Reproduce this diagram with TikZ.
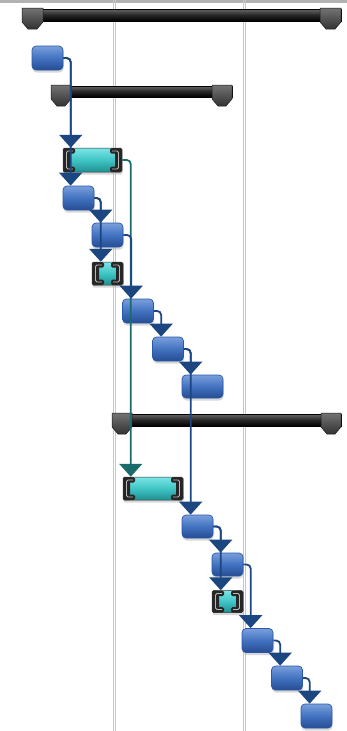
\documentclass[tikz,border=0pt]{standalone}
\usepackage{tikz}
\usetikzlibrary{arrows.meta,shadows}

\definecolor{taskhi}{HTML}{7A9FDC}
\definecolor{taskmid}{HTML}{4272C0}
\definecolor{tasklo}{HTML}{264C92}
\definecolor{taskline}{HTML}{2A58A8}
\definecolor{splithi}{HTML}{7BE6E6}
\definecolor{splitmid}{HTML}{3FC4C4}
\definecolor{splitlo}{HTML}{1F8F92}
\definecolor{linkblue}{HTML}{1C4680}
\definecolor{linkteal}{HTML}{1A6B6C}

\begin{document}
\begin{tikzpicture}[x=1pt,y=-1pt,
    task/.style={rectangle, rounded corners=4pt, draw=taskline, line width=0.7pt,
      top color=taskhi, bottom color=tasklo, middle color=taskmid,
      minimum width=31pt, minimum height=24pt, inner sep=0pt,
      drop shadow={shadow xshift=0.5pt, shadow yshift=-2.5pt, fill=black!30, opacity=0.5}},
    split/.style={rectangle, rounded corners=1.5pt, draw=black!80, line width=0.5pt,
      top color=splithi, bottom color=splitlo, middle color=splitmid,
      minimum height=24pt, inner sep=0pt,
      drop shadow={shadow xshift=0.5pt, shadow yshift=-2.5pt, fill=black!30, opacity=0.5},
      path picture={
        \fill[black!85] (path picture bounding box.north west) rectangle ([xshift=7pt]path picture bounding box.south west);
        \fill[black!85] (path picture bounding box.north west) rectangle ([xshift=12pt,yshift=-5.5pt]path picture bounding box.north west);
        \fill[black!85] (path picture bounding box.south west) rectangle ([xshift=12pt,yshift=5.5pt]path picture bounding box.south west);
        \fill[black!85] (path picture bounding box.north east) rectangle ([xshift=-7pt]path picture bounding box.south east);
        \fill[black!85] (path picture bounding box.north east) rectangle ([xshift=-12pt,yshift=-5.5pt]path picture bounding box.north east);
        \fill[black!85] (path picture bounding box.south east) rectangle ([xshift=-12pt,yshift=5.5pt]path picture bounding box.south east);
        \draw[gray!55, line width=0.8pt] ([xshift=10pt,yshift=-3pt]path picture bounding box.north west) -- ([xshift=3.5pt,yshift=-3pt]path picture bounding box.north west)
          -- ([xshift=3.5pt,yshift=3pt]path picture bounding box.south west) -- ([xshift=10pt,yshift=3pt]path picture bounding box.south west);
        \draw[gray!55, line width=0.8pt] ([xshift=-10pt,yshift=-3pt]path picture bounding box.north east) -- ([xshift=-3.5pt,yshift=-3pt]path picture bounding box.north east)
          -- ([xshift=-3.5pt,yshift=3pt]path picture bounding box.south east) -- ([xshift=-10pt,yshift=3pt]path picture bounding box.south east);
      }},
    sumbar/.style={draw=black, line width=0.5pt, top color=black!60, bottom color=black, middle color=black!85},
    sumcap/.style={draw=black!90, line width=0.5pt, top color=black!55, bottom color=black!80},
    grid/.style={gray!45, line width=0.6pt},
    link/.style={draw=linkblue, line width=1.8pt, rounded corners=4pt,
      -{Triangle[width=23pt,length=13pt]}},
    tlink/.style={link, draw=linkteal}]

    \useasboundingbox (0,0) rectangle (347,731);

    % timescale lines
    \fill[gray!60] (0,0) rectangle (347,3);
    \draw[grid] (113,0) -- (113,731);
    \draw[grid] (115.5,0) -- (115.5,731);
    \draw[grid] (243,0) -- (243,731);
    \draw[grid] (245.5,0) -- (245.5,731);

    % summary bars
    \draw[sumbar] (22,9) rectangle (341,21);
    \draw[sumcap] (22,8) -- (43,8) -- (43,22) -- (37,29) -- (28,29) -- (22,22) -- cycle;
    \draw[sumcap] (320,8) -- (341,8) -- (341,22) -- (335,29) -- (326,29) -- (320,22) -- cycle;
    \draw[sumbar] (51,86) rectangle (232,97);
    \draw[sumcap] (51,85) -- (71,85) -- (71,99) -- (65,106) -- (57,106) -- (51,99) -- cycle;
    \draw[sumcap] (212,85) -- (232,85) -- (232,99) -- (226,106) -- (218,106) -- (212,99) -- cycle;
    \draw[sumbar] (112,414) rectangle (341,426);
    \draw[sumcap] (112,413) -- (132,413) -- (132,427) -- (126,434) -- (118,434) -- (112,427) -- cycle;
    \draw[sumcap] (321,413) -- (341,413) -- (341,427) -- (335,434) -- (327,434) -- (321,427) -- cycle;

    % tasks
    \node[task] (t1) at (47.5,58) {};
    \node[split, minimum width=59pt] (c1) at (92.5,160) {};
    \node[task] (t3) at (78.5,198) {};
    \node[task] (t4) at (107.5,235) {};
    \node[split, minimum width=31pt, minimum height=23pt] (m1) at (107.5,273.5) {};
    \node[task] (t5) at (138,311) {};
    \node[task] (t6) at (168,349) {};
    \node[task, minimum width=41pt, minimum height=23pt] (t7) at (202.5,386.5) {};
    \node[split, minimum width=60pt, minimum height=23pt] (c2) at (153,488.5) {};
    \node[task, minimum height=23pt] (t8) at (197.5,526.5) {};
    \node[task, minimum height=23pt] (t9) at (227.5,564.5) {};
    \node[split, minimum width=31pt, minimum height=22pt] (m2) at (227.5,601.5) {};
    \node[task] (t10) at (257.5,640.5) {};
    \node[task] (t11) at (287,678) {};
    \node[task] (t12) at (316.5,716) {};

    % links
    \draw[tlink] (c1.east) -| ([xshift=8pt]c2.north west);
    \draw[link] (t1.east) -| ([xshift=8pt]c1.north west);
    \draw[link] (t1.east) -| ([xshift=8pt]t3.north west);
    \draw[link] (t3.east) -| ([xshift=9pt]t4.north west);
    \draw[link] (t3.east) -| ([xshift=9pt]m1.north west);
    \draw[link] (t4.east) -| ([xshift=9pt]t5.north west);
    \draw[link] (t5.east) -| ([xshift=9pt]t6.north west);
    \draw[link] (t6.east) -| ([xshift=9pt]t7.north west);
    \draw[link] (t6.east) -| ([xshift=9pt]t8.north west);
    \draw[link] (t8.east) -| ([xshift=9pt]t9.north west);
    \draw[link] (t8.east) -| ([xshift=9pt]m2.north west);
    \draw[link] (t9.east) -| ([xshift=9pt]t10.north west);
    \draw[link] (t10.east) -| ([xshift=9pt]t11.north west);
    \draw[link] (t11.east) -| ([xshift=9pt]t12.north west);
\end{tikzpicture}
\end{document}
